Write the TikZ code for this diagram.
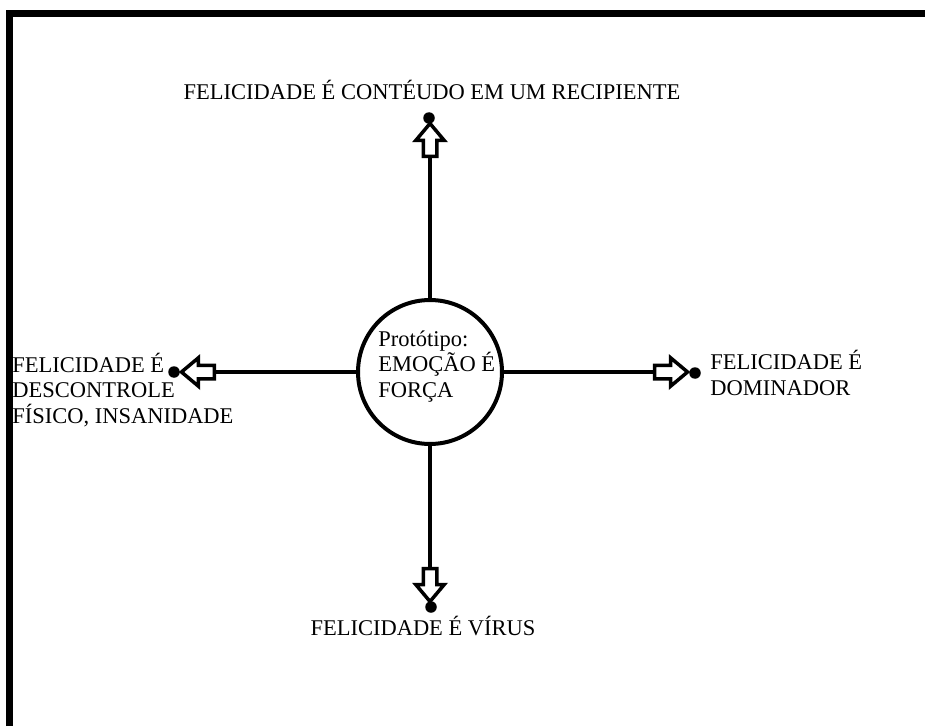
\documentclass[tikz,border=0pt]{standalone}
\usepackage{fontspec}
\setmainfont{Liberation Serif}
\usetikzlibrary{positioning, shapes.arrows}

\begin{document}
\begin{tikzpicture}[x=0.02cm, y=-0.02cm,
    proto/.style={draw, circle, line width=0.08cm, minimum size=2.88cm, inner sep=0},
    dot/.style={circle, fill=black, inner sep=0, minimum size=0.23cm},
    hollow/.style={draw, fill=white, single arrow, line width=0.07cm, minimum height=0.66cm,
        inner sep=0.1cm, single arrow head extend=0.15cm, single arrow tip angle=80},
    lbl/.style={inner sep=0, font=\fontsize{12.8}{14.5}\selectfont, align=left},
    link/.style={line width=0.08cm},
    frame/.style={line width=0.14cm, line join=miter},
]
\useasboundingbox (0,0) rectangle (925,726);
\draw[frame] (9.5,726) -- (9.5,14) -- (925,14);

\node[proto] (proto) at (430,372) {};
\node[lbl, anchor=base west] (protoTxt) at (378,397) {Protótipo:\\EMOÇÃO É\\FORÇA};

\node[hollow, rotate=90] (arrU) at (430,144) {};
\node[hollow, rotate=-90] (arrD) at (430,581) {};
\node[hollow, rotate=180] (arrL) at (202,372) {};
\node[hollow] (arrR) at (667,372) {};

\node[dot] (dotU) at (429,118) {};
\node[dot] (dotD) at (431,607) {};
\node[dot] (dotL) at (174,372) {};
\node[dot] (dotR) at (695,373) {};

\node[lbl, anchor=base] (txtU) at (432,100) {FELICIDADE É CONTÉUDO EM UM RECIPIENTE};
\node[lbl, anchor=base] (txtD) at (423,635) {FELICIDADE É VÍRUS};
\node[lbl, anchor=base west] (txtL) at (12,423) {FELICIDADE É\\DESCONTROLE\\FÍSICO, INSANIDADE};
\node[lbl, anchor=base west] (txtR) at (710,395) {FELICIDADE É\\DOMINADOR};

\draw[link] (proto) -- (arrU.tail);
\draw[link] (proto) -- (arrD.tail);
\draw[link] (proto) -- (arrL.tail);
\draw[link] (proto) -- (arrR.tail);
\end{tikzpicture}
\end{document}
